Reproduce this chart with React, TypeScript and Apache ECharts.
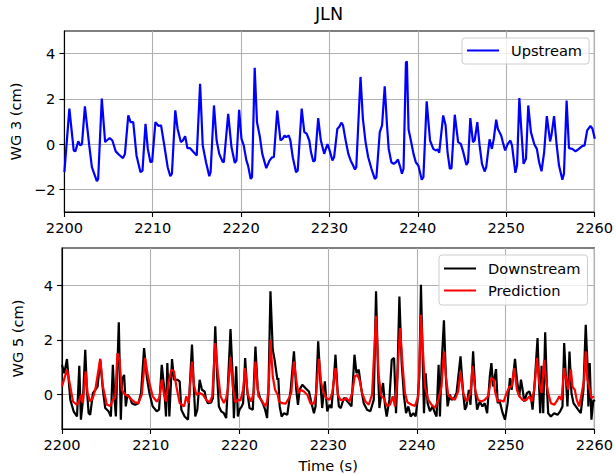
import React, { useEffect, useRef } from 'react';
import * as echarts from 'echarts';

const FONT = "'DejaVu Sans', 'Liberation Sans', sans-serif";

const timeTicks = [2200, 2210, 2220, 2230, 2240, 2250, 2260];
const topYTicks = [-2, 0, 2, 4];
const bottomYTicks = [0, 2, 4];

// Upstream (WG 3) [time s, elevation cm]
const upstreamData: [number, number][] = [
  [2200.00,-1.24],[2200.56,1.57],[2201.05,-0.28],[2201.24,-0.32],[2201.57,0.13],[2201.80,-0.06],[2201.99,0.01],[2202.32,1.67],[2202.81,-0.06],[2203.11,-1.02],[2203.67,-1.64],[2203.82,-1.54],[2204.23,2.01],[2204.61,0.09],[2204.79,0.16],[2205.13,0.27],[2205.43,0.16],[2205.81,-0.32],[2206.18,-0.47],[2206.63,-0.62],[2206.85,-0.43],[2207.23,1.27],[2207.49,0.97],[2207.79,0.97],[2208.16,-0.50],[2208.61,-1.24],[2208.84,-1.17],[2209.18,0.90],[2209.44,-0.21],[2209.74,-0.80],[2209.93,-0.77],[2210.30,0.97],[2210.67,0.80],[2210.94,0.83],[2211.31,-0.06],[2211.69,-1.02],[2211.99,-1.42],[2212.17,-1.31],[2212.55,1.49],[2212.81,0.68],[2213.18,0.09],[2213.41,0.16],[2213.67,0.35],[2213.93,-0.18],[2214.23,-0.18],[2214.61,-0.35],[2214.98,-0.50],[2215.36,2.67],[2215.66,-0.06],[2216.03,-0.80],[2216.40,-1.42],[2216.55,-1.24],[2216.93,1.71],[2217.23,0.16],[2217.53,-0.43],[2217.90,-0.77],[2218.05,-0.80],[2218.54,1.34],[2218.91,-0.13],[2219.29,-0.83],[2219.48,-0.72],[2219.78,1.52],[2220.04,0.24],[2220.30,-0.06],[2220.60,-0.72],[2220.79,-0.95],[2221.09,-1.54],[2221.24,-1.46],[2221.54,3.37],[2221.80,0.97],[2222.10,0.38],[2222.40,-0.43],[2222.85,-1.06],[2223.23,-0.72],[2223.52,-0.58],[2223.71,-0.58],[2224.09,1.48],[2224.46,0.16],[2224.72,0.24],[2224.91,0.38],[2225.10,0.31],[2225.40,0.38],[2225.58,0.16],[2225.85,-0.58],[2226.22,-1.24],[2226.41,-1.17],[2226.86,1.57],[2227.16,0.53],[2227.42,0.46],[2227.72,0.16],[2227.91,-0.35],[2228.17,-0.77],[2228.36,-0.72],[2228.73,1.15],[2229.03,0.16],[2229.41,-0.43],[2229.59,-0.21],[2229.78,0.00],[2229.97,-0.21],[2230.34,-0.72],[2230.53,-0.58],[2230.90,0.68],[2231.09,0.75],[2231.35,0.95],[2231.54,0.83],[2231.84,0.16],[2232.14,-0.43],[2232.40,-0.72],[2232.66,-0.92],[2232.89,-1.12],[2233.04,-1.02],[2233.52,2.97],[2233.79,1.12],[2234.09,0.09],[2234.39,-0.58],[2234.76,-1.09],[2235.14,-1.54],[2235.32,-1.46],[2235.70,0.53],[2235.96,0.83],[2236.26,2.56],[2236.52,0.83],[2236.71,-0.21],[2237.01,-0.80],[2237.27,-0.87],[2237.53,-0.80],[2237.76,-0.68],[2238.02,-1.02],[2238.21,-1.31],[2238.39,-1.09],[2238.66,3.60],[2238.77,3.66],[2238.96,0.65],[2239.22,0.16],[2239.52,-0.43],[2239.78,-0.80],[2240.07,-0.95],[2240.45,-1.57],[2240.64,-1.46],[2241.01,1.89],[2241.39,0.16],[2241.76,-0.21],[2242.02,-0.28],[2242.25,-0.24],[2242.43,-0.38],[2242.88,1.27],[2243.15,0.83],[2243.37,-0.35],[2243.63,-1.09],[2243.82,-1.06],[2244.19,1.30],[2244.57,0.09],[2244.87,0.01],[2245.13,-0.32],[2245.51,-0.92],[2245.69,-0.80],[2245.95,1.15],[2246.25,0.09],[2246.44,0.16],[2246.74,0.97],[2247.00,-0.06],[2247.27,-0.87],[2247.57,-1.21],[2247.75,-1.02],[2248.13,0.21],[2248.39,-0.21],[2248.61,0.24],[2248.88,1.08],[2249.06,0.68],[2249.25,0.53],[2249.44,0.38],[2249.63,0.09],[2249.89,-0.28],[2250.19,0.01],[2250.49,0.16],[2250.67,-0.06],[2251.05,-1.27],[2251.24,-0.95],[2251.50,2.04],[2251.69,0.83],[2251.98,-0.87],[2252.25,-0.65],[2252.51,1.71],[2252.81,0.53],[2253.18,0.01],[2253.48,-0.21],[2253.74,-0.80],[2254.01,-1.20],[2254.31,-0.35],[2254.61,1.24],[2254.98,0.12],[2255.13,0.38],[2255.43,1.24],[2255.73,-0.06],[2255.99,-0.95],[2256.37,-1.57],[2256.55,-1.31],[2256.85,1.93],[2257.12,-0.18],[2257.49,-0.21],[2257.86,-0.32],[2258.24,-0.21],[2258.61,-0.09],[2258.88,-0.06],[2259.18,0.61],[2259.55,0.80],[2259.78,0.68],[2260.04,0.24]
];

// Downstream (WG 5) measured
const downstreamData: [number, number][] = [
  [2200.00,1.09],[2200.26,0.78],[2200.56,1.30],[2200.94,-0.20],[2201.31,-0.62],[2201.69,-0.81],[2201.95,1.05],[2202.13,-0.93],[2202.36,-0.20],[2202.62,1.64],[2202.81,0.17],[2203.00,-0.69],[2203.18,-0.75],[2203.48,0.05],[2203.75,0.17],[2204.01,0.29],[2204.31,1.27],[2204.61,0.17],[2204.87,-0.50],[2205.24,-0.62],[2205.51,-0.81],[2205.73,1.09],[2205.92,-0.20],[2206.07,-0.81],[2206.40,2.65],[2206.63,-0.93],[2206.78,0.54],[2207.00,0.72],[2207.19,-0.44],[2207.38,-0.01],[2207.68,-0.13],[2207.87,-0.32],[2208.24,-0.38],[2208.61,-0.32],[2208.91,0.05],[2209.25,1.70],[2209.55,0.66],[2209.85,0.05],[2210.22,-0.44],[2210.67,-0.62],[2210.94,-0.56],[2211.24,1.09],[2211.50,0.29],[2211.72,-0.81],[2211.87,1.15],[2212.10,-0.81],[2212.40,1.30],[2212.62,0.54],[2213.00,0.54],[2213.26,0.48],[2213.45,-0.56],[2213.82,-0.81],[2214.20,-0.93],[2214.65,1.83],[2214.87,0.17],[2215.02,-0.81],[2215.25,-0.56],[2215.51,0.54],[2215.77,0.17],[2216.07,0.11],[2216.26,-0.20],[2216.44,-0.32],[2216.82,-0.29],[2217.01,-0.13],[2217.27,2.50],[2217.49,0.66],[2217.68,-0.44],[2217.94,-0.62],[2218.24,-0.69],[2218.50,-0.87],[2218.69,0.29],[2218.99,2.40],[2219.25,0.54],[2219.37,-0.87],[2219.63,1.03],[2219.82,-0.81],[2220.00,-0.56],[2220.26,-0.44],[2220.41,-0.32],[2220.64,1.34],[2220.86,0.17],[2221.13,-0.50],[2221.50,-0.56],[2221.80,1.76],[2222.06,0.17],[2222.32,-0.13],[2222.62,-0.32],[2222.89,-0.56],[2223.11,-0.87],[2223.26,0.05],[2223.49,3.79],[2223.75,1.64],[2223.96,1.27],[2224.27,0.54],[2224.38,0.60],[2224.53,-0.44],[2224.75,-0.81],[2225.02,-0.69],[2225.39,-0.75],[2225.77,0.17],[2226.14,1.58],[2226.40,0.17],[2226.59,-0.38],[2226.78,0.17],[2227.08,0.36],[2227.45,0.23],[2227.83,0.11],[2228.12,-0.32],[2228.39,-0.69],[2228.57,-0.44],[2228.87,1.95],[2229.14,0.36],[2229.32,-0.50],[2229.62,0.48],[2229.89,-0.62],[2230.15,-0.38],[2230.37,-0.50],[2230.63,0.54],[2230.82,1.46],[2231.05,0.17],[2231.20,-0.44],[2231.42,-0.50],[2231.76,-0.13],[2232.02,-0.20],[2232.32,-0.32],[2232.62,-0.44],[2232.96,1.46],[2233.18,0.78],[2233.44,0.91],[2233.74,0.17],[2234.00,-0.32],[2234.38,-0.56],[2234.75,-0.62],[2235.13,-0.20],[2235.39,3.79],[2235.62,0.78],[2235.77,-0.50],[2235.99,0.05],[2236.18,0.42],[2236.41,-0.44],[2236.59,-0.81],[2236.89,-0.20],[2237.16,1.27],[2237.42,1.34],[2237.64,-0.69],[2237.79,0.54],[2238.02,3.60],[2238.28,1.15],[2238.54,-0.07],[2238.77,-0.69],[2239.03,-0.44],[2239.29,-0.81],[2239.59,-0.69],[2239.85,-0.81],[2240.08,-0.20],[2240.27,0.66],[2240.45,4.03],[2240.64,1.40],[2240.79,-0.69],[2240.98,0.78],[2241.20,-0.32],[2241.46,-0.62],[2241.76,-0.44],[2242.03,-0.69],[2242.21,-0.81],[2242.44,1.09],[2242.59,-0.81],[2242.77,1.03],[2243.04,2.72],[2243.26,0.66],[2243.45,-0.44],[2243.71,-0.01],[2243.90,-0.20],[2244.20,-0.13],[2244.46,0.05],[2244.91,1.40],[2245.21,0.05],[2245.40,-0.56],[2245.58,-0.44],[2245.85,0.17],[2246.03,-0.38],[2246.33,1.58],[2246.56,0.17],[2246.78,-0.56],[2247.08,-0.26],[2247.38,-0.44],[2247.64,-0.32],[2247.91,-0.69],[2248.21,0.66],[2248.39,1.15],[2248.58,0.29],[2248.91,0.93],[2249.10,-0.32],[2249.29,-0.20],[2249.66,-0.69],[2249.92,-0.93],[2250.22,-0.32],[2250.48,0.60],[2250.67,0.17],[2251.05,1.31],[2251.27,0.54],[2251.53,-0.07],[2251.72,0.54],[2251.91,0.17],[2252.10,-0.26],[2252.39,0.05],[2252.66,0.11],[2252.84,-0.07],[2253.03,-0.56],[2253.29,0.54],[2253.59,2.07],[2253.78,0.17],[2253.89,-0.69],[2254.04,1.05],[2254.23,-0.69],[2254.45,2.28],[2254.64,0.29],[2254.79,-0.69],[2255.09,-0.81],[2255.47,-0.69],[2255.84,-0.75],[2256.14,-0.62],[2256.40,-0.44],[2256.59,1.89],[2256.78,0.66],[2256.96,-0.44],[2257.19,1.58],[2257.41,0.05],[2257.64,-0.32],[2257.90,-0.44],[2258.16,-0.56],[2258.46,-0.69],[2258.76,0.17],[2259.02,2.56],[2259.21,1.15],[2259.32,-0.44],[2259.47,1.15],[2259.66,-0.93],[2259.88,-0.20],[2260.04,-0.26]
];

// Downstream (WG 5) prediction
const predictionData: [number, number][] = [
  [2200.00,0.29],[2200.56,0.91],[2200.86,0.42],[2201.24,-0.26],[2201.69,-0.38],[2201.99,-0.20],[2202.17,-0.01],[2202.36,-0.32],[2202.66,0.85],[2202.88,0.05],[2203.18,-0.26],[2203.48,-0.13],[2203.75,0.17],[2204.31,1.31],[2204.61,0.29],[2205.06,-0.38],[2205.43,-0.42],[2205.73,-0.20],[2205.99,-0.13],[2206.25,1.52],[2206.48,1.27],[2206.74,0.17],[2207.12,-0.01],[2207.49,-0.07],[2207.87,-0.20],[2208.24,-0.29],[2208.61,-0.32],[2208.99,-0.01],[2209.36,1.34],[2209.63,0.78],[2209.85,0.42],[2210.22,-0.07],[2210.67,-0.26],[2210.97,-0.13],[2211.24,0.54],[2211.50,-0.01],[2211.72,-0.26],[2211.99,0.42],[2212.32,0.91],[2212.62,0.85],[2212.89,0.29],[2213.26,-0.32],[2213.75,-0.44],[2214.01,-0.07],[2214.27,-0.32],[2214.65,1.21],[2214.87,0.36],[2215.13,-0.01],[2215.51,0.05],[2215.88,-0.01],[2216.26,-0.20],[2216.63,-0.29],[2216.93,-0.07],[2217.27,1.89],[2217.57,0.78],[2217.87,-0.07],[2218.24,-0.32],[2218.50,-0.13],[2218.69,0.17],[2218.99,1.37],[2219.25,0.29],[2219.52,-0.29],[2219.82,-0.20],[2220.11,-0.22],[2220.41,0.17],[2220.64,0.97],[2220.94,-0.01],[2221.31,-0.26],[2221.61,0.05],[2221.80,1.21],[2222.14,-0.07],[2222.51,-0.22],[2222.89,-0.44],[2223.11,-0.26],[2223.30,0.29],[2223.49,2.01],[2223.75,0.66],[2224.01,0.17],[2224.31,-0.01],[2224.45,-0.26],[2224.83,-0.32],[2225.20,-0.34],[2225.58,-0.13],[2225.84,0.05],[2226.14,1.21],[2226.40,0.54],[2226.63,0.05],[2226.89,0.17],[2227.26,0.11],[2227.64,-0.01],[2228.01,-0.34],[2228.39,-0.34],[2228.65,0.05],[2228.95,1.31],[2229.21,0.42],[2229.51,0.05],[2229.77,-0.13],[2230.15,-0.20],[2230.45,0.05],[2230.82,0.97],[2231.08,-0.01],[2231.38,-0.20],[2231.76,-0.20],[2232.02,-0.13],[2232.39,-0.26],[2232.69,0.05],[2232.99,0.66],[2233.26,0.72],[2233.52,0.54],[2233.82,0.05],[2234.19,-0.26],[2234.57,-0.38],[2234.94,-0.01],[2235.39,2.89],[2235.69,0.66],[2235.99,-0.07],[2236.25,-0.13],[2236.59,-0.42],[2236.97,-0.38],[2237.27,-0.07],[2237.53,-0.44],[2237.79,0.66],[2238.09,2.44],[2238.39,1.03],[2238.65,0.05],[2238.92,-0.29],[2239.40,-0.38],[2239.78,-0.42],[2240.15,-0.07],[2240.45,2.93],[2240.71,1.40],[2240.90,0.29],[2241.28,-0.20],[2241.65,-0.38],[2242.03,-0.50],[2242.40,-0.20],[2242.77,0.29],[2243.04,1.58],[2243.26,0.66],[2243.52,-0.01],[2243.90,-0.13],[2244.27,-0.20],[2244.65,0.11],[2244.91,0.85],[2245.21,0.05],[2245.58,-0.26],[2246.03,0.05],[2246.26,1.05],[2246.56,0.17],[2246.89,-0.20],[2247.27,-0.26],[2247.64,-0.20],[2248.02,-0.07],[2248.39,0.60],[2248.65,0.54],[2248.80,0.11],[2249.10,-0.26],[2249.47,-0.22],[2249.77,-0.26],[2250.04,-0.01],[2250.41,0.29],[2250.67,0.29],[2250.97,0.97],[2251.27,0.17],[2251.53,-0.07],[2251.91,-0.20],[2252.28,-0.22],[2252.66,-0.07],[2252.92,-0.26],[2253.22,0.17],[2253.52,1.34],[2253.78,0.42],[2254.04,0.05],[2254.34,1.27],[2254.53,0.54],[2254.79,0.05],[2255.09,-0.32],[2255.47,-0.38],[2255.84,-0.20],[2256.03,-0.07],[2256.29,-0.20],[2256.59,0.97],[2256.81,0.54],[2257.04,0.17],[2257.34,0.93],[2257.53,0.29],[2257.79,0.17],[2258.01,-0.20],[2258.28,-0.44],[2258.54,-0.01],[2258.84,0.54],[2259.02,1.58],[2259.21,0.54],[2259.40,0.29],[2259.66,-0.13],[2259.96,-0.07]
];

const fmtNum = (v: number) => (v < 0 ? '\u2212' + Math.abs(v) : String(v));

export default function App() {
  const ref = useRef<HTMLDivElement>(null);

  useEffect(() => {
    if (!ref.current) return;
    const chart = echarts.init(ref.current, null, { renderer: 'svg' });

    const labelStyle = { color: '#000', fontSize: 14.6, fontFamily: FONT };
    const splitLine = { show: true, lineStyle: { color: '#b0b0b0', width: 1.1 } };
    const axisLine = { show: true, onZero: false, lineStyle: { color: '#000', width: 1.1 } };
    const axisTick = { show: true, length: 5, lineStyle: { color: '#000', width: 1.1 } };

    const xAxisBase = (gridIndex: number) => ({
      type: 'value',
      gridIndex,
      min: timeTicks[0],
      max: timeTicks[timeTicks.length - 1],
      interval: 10,
      axisLine,
      axisTick,
      axisLabel: {
        ...labelStyle,
        margin: 8,
        showMinLabel: true,
        showMaxLabel: true,
        formatter: (v: number) => String(v),
      },
      splitLine,
    });

    const legendBase = {
      orient: 'vertical',
      itemWidth: 32,
      itemHeight: 2,
      itemGap: 5,
      icon: 'rect',
      selectedMode: false,
      backgroundColor: 'rgba(255,255,255,0.8)',
      borderColor: '#cccccc',
      borderWidth: 1,
      borderRadius: 3,
      textStyle: { ...labelStyle, lineHeight: 17, padding: [0, 0, 0, 7] },
    };

    chart.setOption({
      animation: false,
      backgroundColor: '#ffffff',
      textStyle: { fontFamily: FONT },
      grid: [
        { left: 62, right: 20, top: 31, height: 181, show: true, borderColor: '#000', borderWidth: 1.1, backgroundColor: 'transparent' },
        { left: 62, right: 20, top: 248, height: 181, show: true, borderColor: '#000', borderWidth: 1.1, backgroundColor: 'transparent' },
      ],
      xAxis: [
        xAxisBase(0),
        {
          ...xAxisBase(1),
          name: 'Time (s)',
          nameLocation: 'middle',
          nameGap: 29,
          nameTextStyle: labelStyle,
        },
      ],
      yAxis: [
        {
          type: 'value',
          gridIndex: 0,
          min: -3,
          max: 5,
          splitNumber: 4,
          axisLine,
          axisTick: { ...axisTick, customValues: topYTicks },
          axisLabel: { ...labelStyle, margin: 9, customValues: topYTicks, formatter: fmtNum },
          splitLine,
          name: 'WG 3 (cm)',
          nameLocation: 'middle',
          nameGap: 37,
          nameTextStyle: labelStyle,
        },
        {
          type: 'value',
          gridIndex: 1,
          min: -1.27,
          max: 5.38,
          splitNumber: 3,
          axisLine,
          axisTick: { ...axisTick, customValues: bottomYTicks },
          axisLabel: { ...labelStyle, margin: 9, customValues: bottomYTicks, formatter: fmtNum },
          splitLine,
          name: 'WG 5 (cm)',
          nameLocation: 'middle',
          nameGap: 37,
          nameTextStyle: labelStyle,
        },
      ],
      legend: [
        { ...legendBase, data: ['Upstream'], left: 462, top: 38, padding: [4, 7, 5, 5] },
        { ...legendBase, data: ['Downstream', 'Prediction'], left: 439, top: 255, padding: [5, 7, 6, 5] },
      ],
      graphic: [
        {
          type: 'text',
          x: 329,
          y: 14,
          style: { text: 'JLN', fontSize: 17.6, fontFamily: FONT, fill: '#000', align: 'center', verticalAlign: 'middle' },
        },
      ],
      series: [
        {
          name: 'Upstream',
          type: 'line',
          xAxisIndex: 0,
          yAxisIndex: 0,
          data: upstreamData,
          showSymbol: false,
          symbol: 'none',
          color: '#0000ff',
          lineStyle: { color: '#0000ff', width: 2.2 },
          itemStyle: { color: '#0000ff' },
        },
        {
          name: 'Downstream',
          type: 'line',
          xAxisIndex: 1,
          yAxisIndex: 1,
          data: downstreamData,
          showSymbol: false,
          symbol: 'none',
          color: '#000000',
          lineStyle: { color: '#000000', width: 2.2 },
          itemStyle: { color: '#000000' },
        },
        {
          name: 'Prediction',
          type: 'line',
          xAxisIndex: 1,
          yAxisIndex: 1,
          data: predictionData,
          showSymbol: false,
          symbol: 'none',
          color: '#ff0000',
          lineStyle: { color: '#ff0000', width: 2.2 },
          itemStyle: { color: '#ff0000' },
        },
      ],
    });

    return () => chart.dispose();
  }, []);

  return (
    <div
      ref={ref}
      style={{ position: 'fixed', left: 0, top: 0, width: 616, height: 475, background: '#fff' }}
    />
  );
}
